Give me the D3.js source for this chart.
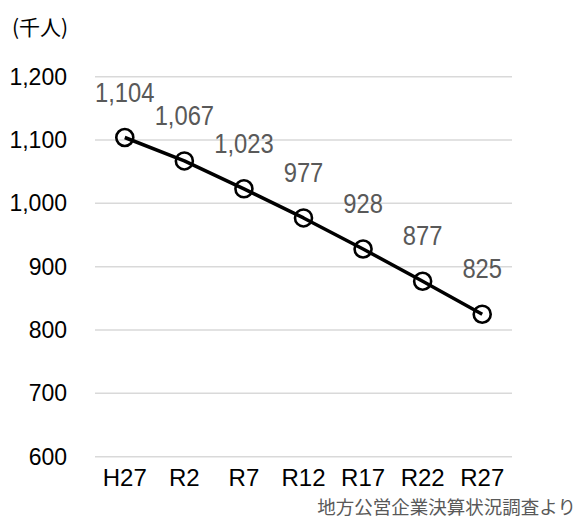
<!DOCTYPE html>
<html>
<head>
<meta charset="utf-8">
<script src="https://cdn.jsdelivr.net/npm/d3@7"></script>
<style>
  html, body { margin: 0; padding: 0; background: #fff; }
  svg { display: block; }
  .num { font-family: "Liberation Sans", Arial, sans-serif; }
  .jp { font-family: "Noto Sans CJK JP", sans-serif; }
</style>
</head>
<body>
<svg id="chart" width="578" height="521"></svg>
<script>
// Population by fiscal year (thousands)
const years = ["H27", "R2", "R7", "R12", "R17", "R22", "R27"];
const population = [1104, 1067, 1023, 977, 928, 877, 825];
const yTicks = [600, 700, 800, 900, 1000, 1100, 1200];
const unitLabel = "(千人)";
const sourceNote = "地方公営企業決算状況調査より";

const svg = d3.select("#chart");
const plot = { left: 95, right: 512, top: 76.7, bottom: 456.7 };

const x = d3.scaleBand().domain(years).range([plot.left, plot.right]);
const y = d3.scaleLinear().domain([600, 1200]).range([plot.bottom, plot.top]);
const cx = d => x(d) + x.bandwidth() / 2;

// horizontal gridlines
svg.append("g").selectAll("line").data(yTicks).join("line")
  .attr("x1", plot.left).attr("x2", plot.right)
  .attr("y1", d => y(d)).attr("y2", d => y(d))
  .attr("stroke", "#d9d9d9").attr("stroke-width", 1.5);

// value axis
const yAxis = svg.append("g")
  .attr("transform", `translate(${plot.left},0)`)
  .call(d3.axisLeft(y).tickValues(yTicks).tickFormat(d3.format(",")).tickSize(0).tickPadding(28));
yAxis.select(".domain").remove();
yAxis.selectAll("text")
  .attr("class", "num").attr("fill", "#000")
  .style("font-size", "23px");

// category axis
const xAxis = svg.append("g")
  .attr("transform", `translate(0,${plot.bottom})`)
  .call(d3.axisBottom(x).tickSize(0).tickPadding(12));
xAxis.select(".domain").remove();
xAxis.selectAll("text")
  .attr("class", "num").attr("fill", "#000")
  .style("font-size", "24px");

// series line
const pts = years.map((k, i) => [cx(k), y(population[i])]);
svg.append("path")
  .attr("d", d3.line()(pts))
  .attr("fill", "none").attr("stroke", "#000")
  .attr("stroke-width", 3.5).attr("stroke-linejoin", "round");

// markers
svg.append("g").selectAll("circle").data(years).join("circle")
  .attr("cx", d => cx(d))
  .attr("cy", (d, i) => y(population[i]))
  .attr("r", 8.5)
  .attr("fill", "none").attr("stroke", "#000").attr("stroke-width", 2.6);

// data labels (slightly condensed)
svg.append("g").selectAll("text").data(years).join("text")
  .attr("class", "num")
  .attr("transform", (d, i) => `translate(${cx(d)},${y(population[i]) - 36}) scale(0.88,1)`)
  .attr("text-anchor", "middle")
  .attr("fill", "#595959")
  .style("font-size", "27px")
  .text((d, i) => d3.format(",")(population[i]));

// unit label
svg.append("text").attr("class", "jp")
  .attr("x", 12).attr("y", 35)
  .attr("fill", "#000").style("font-size", "21px")
  .text(unitLabel);

// source note
svg.append("text").attr("class", "jp")
  .attr("x", 576).attr("y", 514)
  .attr("text-anchor", "end")
  .attr("fill", "#595959").style("font-size", "18.5px")
  .text(sourceNote);
</script>
</body>
</html>
